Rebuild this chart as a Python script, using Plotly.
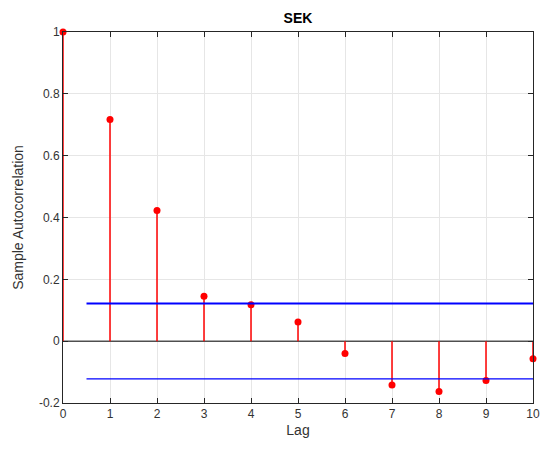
import plotly.graph_objects as go

lags = [0, 1, 2, 3, 4, 5, 6, 7, 8, 9, 10]
acf = [1.0, 0.717, 0.423, 0.145, 0.118, 0.062, -0.040, -0.142, -0.163, -0.127, -0.057]
bound = 0.122
bound_x = [0.5, 10]
x_ticks = [0, 1, 2, 3, 4, 5, 6, 7, 8, 9, 10]
y_ticks = [-0.2, 0, 0.2, 0.4, 0.6, 0.8, 1]
y_tick_text = ["-0.2", "0", "0.2", "0.4", "0.6", "0.8", "1"]

sx, sy = [], []
for l, v in zip(lags, acf):
    sx += [l, l, None]
    sy += [0, v, None]

fig = go.Figure()
fig.add_trace(go.Scatter(x=[0, 10], y=[0, 0], mode="lines",
                         line=dict(color="black", width=1), hoverinfo="skip"))
fig.add_trace(go.Scatter(x=sx, y=sy, mode="lines",
                         line=dict(color="red", width=1.5), hoverinfo="skip"))
fig.add_trace(go.Scatter(x=lags, y=acf, mode="markers", cliponaxis=False,
                         marker=dict(color="red", size=7)))
fig.add_trace(go.Scatter(x=bound_x, y=[bound, bound], mode="lines",
                         line=dict(color="blue", width=2)))
fig.add_trace(go.Scatter(x=bound_x, y=[-bound, -bound], mode="lines",
                         line=dict(color="blue", width=1.2)))

axis_common = dict(showgrid=True, gridcolor="#e6e6e6", gridwidth=1,
                   showline=True, linecolor="#262626", linewidth=1, mirror="ticks",
                   ticks="inside", ticklen=5, tickcolor="#262626", zeroline=False,
                   tickfont=dict(family="Liberation Sans, Arial", size=12, color="#333333"))

fig.update_layout(
    width=543, height=453,
    margin=dict(l=63, r=10, t=32, b=50, autoexpand=False),
    paper_bgcolor="white", plot_bgcolor="white",
    showlegend=False,
    title=dict(text="<b>SEK</b>", x=(63 + 533) / 2 / 543, xanchor="center", y=1 - 18/453, yanchor="middle",
               font=dict(family="Liberation Sans, Arial", size=14, color="black")),
    xaxis=dict(range=[0, 10], tickvals=x_ticks,
               title=dict(text="Lag", standoff=4,
                          font=dict(family="Liberation Sans, Arial", size=14, color="#333333")),
               **axis_common),
    yaxis=dict(range=[-0.2, 1], tickvals=y_ticks, ticktext=y_tick_text,
               title=dict(text="Sample Autocorrelation", standoff=12,
                          font=dict(family="Liberation Sans, Arial", size=14, color="#333333")),
               **axis_common),
)

fig.write_html("out.html")
